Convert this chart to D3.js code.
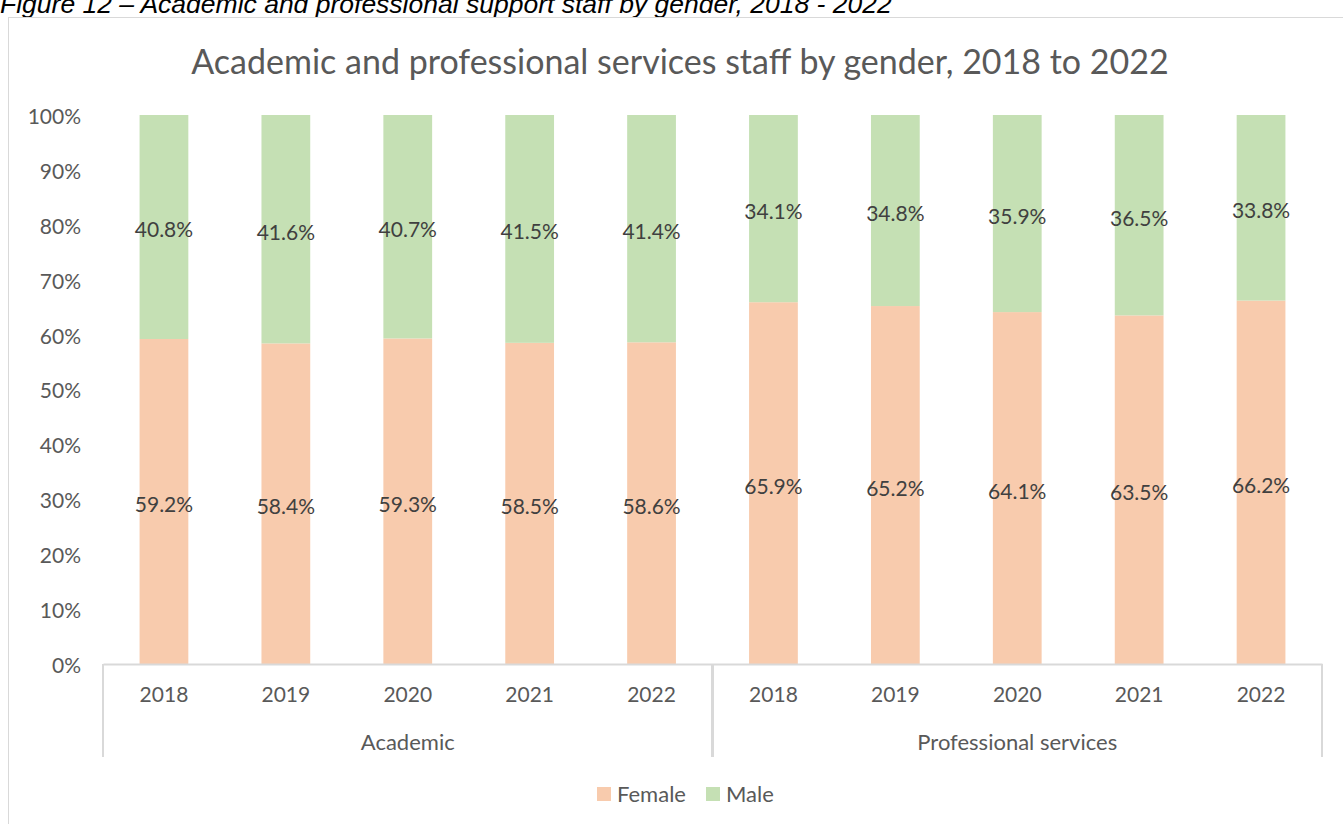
<!DOCTYPE html>
<html><head><meta charset="utf-8">
<script src="https://cdn.jsdelivr.net/npm/d3@7"></script>
<style>body{margin:0;background:#fff;overflow:hidden}svg{display:block}</style>
</head><body>
<svg id="c" width="1343" height="824"></svg>
<script>
const groups = ["Academic", "Professional services"];
const years = ["2018", "2019", "2020", "2021", "2022"];
const femaleValues = [59.2, 58.4, 59.3, 58.5, 58.6, 65.9, 65.2, 64.1, 63.5, 66.2];
const maleValues = [40.8, 41.6, 40.7, 41.5, 41.4, 34.1, 34.8, 35.9, 36.5, 33.8];
const seriesNames = ["Female", "Male"];
const yTicks = [0, 10, 20, 30, 40, 50, 60, 70, 80, 90, 100];

const colors = {Female: "#F8CBAD", Male: "#C5E0B4"};
const font = "Lato, 'Open Sans', sans-serif";
const numSize = 21, wordSize = 22;
const svg = d3.select("#c");

const rows = [];
groups.forEach((g, gi) => years.forEach((yr, yi) => {
  const i = gi * years.length + yi;
  rows.push({key: g + "|" + yr, group: g, year: yr, Female: femaleValues[i], Male: maleValues[i]});
}));

const pLeft = 103, pRight = 1322, pTop = 115, pBottom = 664;
const x = d3.scaleBand().domain(rows.map(d => d.key)).range([pLeft, pRight]).paddingInner(0.6).paddingOuter(0.3);
const y = d3.scaleLinear().domain([0, 100]).range([pBottom, pTop]);

// caption (partly cut off at the top, as in the source)
svg.append("text").attr("x", 0).attr("y", 13)
  .attr("font-family", "'Liberation Sans', Arial, sans-serif").attr("font-style", "italic")
  .attr("font-size", 26.5).attr("fill", "#000")
  .text("Figure 12 \u2013 Academic and professional support staff by gender, 2018 - 2022");

// chart frame
svg.append("rect").attr("x", 8.5).attr("y", 17.5).attr("width", 1400).attr("height", 900)
  .attr("fill", "none").attr("stroke", "#D9D9D9").attr("stroke-width", 1);

// title
svg.append("text").attr("x", 680).attr("y", 74).attr("text-anchor", "middle")
  .attr("font-family", font).attr("font-size", 34).attr("fill", "#595959")
  .text("Academic and professional services staff by gender, 2018 to 2022");

// y axis labels
const yAxis = d3.axisLeft(y).tickValues(yTicks).tickFormat(d => d + "%").tickSize(0).tickPadding(22);
const ya = svg.append("g").attr("transform", `translate(${pLeft},0)`).call(yAxis);
ya.select(".domain").remove();
ya.selectAll("text").attr("font-family", font).attr("font-size", numSize).attr("fill", "#595959").attr("dy", "0.4em");

// stacked bars
const stack = d3.stack().keys(seriesNames)(rows);
const layers = svg.append("g").selectAll("g").data(stack).join("g").attr("fill", d => colors[d.key]);
layers.selectAll("rect").data(d => d).join("rect")
  .attr("x", d => x(d.data.key)).attr("width", x.bandwidth())
  .attr("y", d => y(d[1])).attr("height", d => y(d[0]) - y(d[1]));

// data labels
layers.each(function(layer) {
  d3.select(this).selectAll("text").data(layer).join("text")
    .attr("x", d => x(d.data.key) + x.bandwidth() / 2)
    .attr("y", d => y((d[0] + d[1]) / 2) + 10.5)
    .attr("text-anchor", "middle").attr("font-family", font).attr("font-size", numSize).attr("fill", "#404040")
    .text(d => (d[1] - d[0]).toFixed(1) + "%");
});

// x axis (baseline + category labels)
const xAxis = d3.axisBottom(x).tickSize(0).tickPadding(23).tickFormat(k => k.split("|")[1]);
const xa = svg.append("g").attr("transform", `translate(0,${pBottom})`).call(xAxis);
xa.select(".domain").attr("stroke", "#D9D9D9").attr("stroke-width", 2);
xa.selectAll("text").attr("font-family", font).attr("font-size", numSize).attr("fill", "#595959");

// group separators and labels
const step = x.step();
const sepXs = [];
groups.forEach((g) => {
  const keys = years.map(yr => g + "|" + yr);
  const x0 = x(keys[0]) + x.bandwidth() / 2 - step / 2;
  const x1 = x(keys[keys.length - 1]) + x.bandwidth() / 2 + step / 2;
  sepXs.push(x0, x1);
  svg.append("text").attr("x", (x0 + x1) / 2).attr("y", 750).attr("text-anchor", "middle")
    .attr("font-family", font).attr("font-size", wordSize).attr("fill", "#595959").text(g);
});
Array.from(new Set(sepXs.map(v => Math.round(v)))).forEach(sx => {
  svg.append("line").attr("x1", sx).attr("x2", sx).attr("y1", pBottom).attr("y2", 757)
    .attr("stroke", "#D9D9D9").attr("stroke-width", 2);
});

// legend
const legend = svg.append("g");
const legendItems = [{name: "Female", x: 597}, {name: "Male", x: 706}];
legendItems.forEach(it => {
  legend.append("rect").attr("x", it.x).attr("y", 787).attr("width", 14).attr("height", 14).attr("fill", colors[it.name]);
  legend.append("text").attr("x", it.x + 20).attr("y", 802).attr("font-family", font).attr("font-size", wordSize)
    .attr("fill", "#595959").text(it.name);
});
</script>
</body></html>
